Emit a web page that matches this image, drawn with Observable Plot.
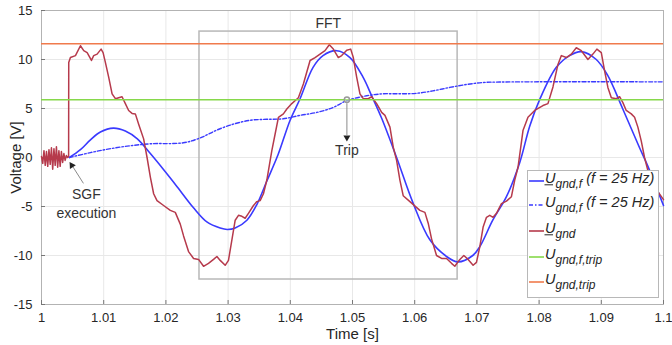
<!DOCTYPE html>
<html><head><meta charset="utf-8">
<script src="https://cdn.jsdelivr.net/npm/d3@7"></script>
<script src="https://cdn.jsdelivr.net/npm/@observablehq/plot@0.6"></script>
<style>body{margin:0;background:#fff} svg{display:block} #wrap{position:relative;width:672px;height:345px}
#legend{position:absolute;left:0;top:0;pointer-events:none}</style>
</head><body><div id="wrap"><div id="chart"></div></div><script>
// ---- data ----
const xTicks = [1, 1.01, 1.02, 1.03, 1.04, 1.05, 1.06, 1.07, 1.08, 1.09, 1.1];
const yTicks = [-15, -10, -5, 0, 5, 10, 15];

// U_gnd (measured, red)
const uGnd = [
  [1.0000, 0.1], [1.0002, -0.6], [1.0004, 0.7], [1.0006, -0.8], [1.0008, 0.6], [1.0010, -0.9],
  [1.0012, 0.8], [1.0014, -0.7], [1.0016, 1.0], [1.0018, -1.2], [1.0020, 0.9], [1.0022, -0.8],
  [1.0024, 1.1], [1.0026, -1.0], [1.0028, 0.7], [1.0030, -0.9], [1.0032, 0.6], [1.0034, -0.5],
  [1.0036, 0.4], [1.0038, -0.3], [1.0040, 0.2], [1.0042, 0.0], [1.00436, 0.1],
  [1.00438, 9.7], [1.00465, 10.2], [1.00546, 10.4], [1.00626, 11.4], [1.00679, 10.9], [1.00734, 10.7],
  [1.00803, 9.9], [1.00839, 10.4], [1.00894, 10.55], [1.00958, 11.06], [1.0099, 10.7], [1.01027, 9.7],
  [1.0108, 8.2], [1.01135, 6.5], [1.01188, 6.0], [1.01241, 6.1], [1.01295, 6.2], [1.01348, 5.5],
  [1.01401, 4.8], [1.01456, 4.5], [1.01509, 4.45], [1.01562, 3.4], [1.01642, 1.9], [1.01697, 0.0],
  [1.0175, -2.0], [1.01803, -3.7], [1.01857, -4.4], [1.01963, -4.9], [1.02071, -5.4], [1.02151, -5.6],
  [1.02231, -6.8], [1.02284, -8.0], [1.02364, -9.6], [1.02445, -10.3], [1.02525, -10.4], [1.02605, -11.1],
  [1.02685, -10.8], [1.02766, -10.4], [1.0282, -10.1], [1.02873, -10.5], [1.02953, -11.0], [1.03006, -10.5],
  [1.03061, -8.4], [1.03114, -6.4], [1.03167, -5.9], [1.03222, -6.0], [1.03274, -6.2], [1.03327, -5.7],
  [1.03408, -4.9], [1.03462, -4.5], [1.03515, -4.4], [1.03568, -3.7], [1.03623, -2.3], [1.03703, 0.7],
  [1.03756, 2.4], [1.03809, 4.1], [1.03889, 4.45], [1.03944, 4.95], [1.04024, 5.5], [1.0413, 6.1],
  [1.0421, 7.5], [1.04318, 9.9], [1.04398, 10.2], [1.04478, 10.55], [1.04558, 10.9], [1.04627, 11.5],
  [1.04692, 11.06], [1.04772, 10.2], [1.04826, 10.4], [1.04907, 10.95], [1.04971, 11.06], [1.05013, 10.2],
  [1.05067, 8.2], [1.0512, 6.5], [1.05173, 6.0], [1.05254, 6.0], [1.05308, 6.2], [1.05388, 5.5],
  [1.05469, 4.6], [1.05522, 4.3], [1.05602, 3.1], [1.05655, 1.05], [1.05709, -0.3], [1.05762, -2.3],
  [1.05815, -3.9], [1.05923, -4.5], [1.06083, -5.4], [1.06164, -5.6], [1.06217, -6.7], [1.06271, -8.3],
  [1.06351, -10.0], [1.06432, -10.3], [1.06512, -10.3], [1.06592, -10.8], [1.06645, -11.1], [1.06726, -10.4],
  [1.0679, -10.0], [1.06859, -10.4], [1.06939, -11.0], [1.06993, -10.7], [1.07047, -9.1], [1.071, -7.1],
  [1.07154, -6.1], [1.07207, -5.9], [1.0726, -6.1], [1.07315, -5.7], [1.07395, -4.7], [1.07475, -4.45],
  [1.07555, -4.0], [1.07608, -2.3], [1.07661, -1.0], [1.07741, 2.75], [1.07821, 4.1], [1.07929, 4.8],
  [1.08062, 5.3], [1.08142, 5.5], [1.08223, 7.2], [1.08303, 9.5], [1.08358, 10.4], [1.08438, 10.2],
  [1.08518, 10.55], [1.08598, 11.2], [1.08679, 10.9], [1.08785, 10.0], [1.08865, 10.55], [1.08929, 11.06],
  [1.09, 10.7], [1.09053, 8.85], [1.09106, 7.15], [1.09161, 6.1], [1.09241, 6.0], [1.09294, 6.2],
  [1.09347, 5.6], [1.09401, 4.8], [1.09482, 4.45], [1.09535, 4.1], [1.09588, 3.1], [1.09642, 1.7],
  [1.09695, 0.0], [1.09748, -1.3], [1.09856, -3.0], [1.1, -4.3]
];

// U_gnd,f (f = 25 Hz), filtered phasor, solid blue
const uGndF = [
  [1.00449, 0.0], [1.00626, 0.8], [1.00787, 1.8], [1.00947, 2.6], [1.01156, 3.0], [1.01348, 2.7],
  [1.01541, 1.9], [1.0175, 0.4], [1.01958, -1.2], [1.02183, -3.0], [1.0244, -5.1], [1.02664, -6.6],
  [1.02873, -7.2], [1.02986, -7.35], [1.03114, -7.2], [1.03302, -6.4], [1.03462, -4.8], [1.03623, -2.4],
  [1.03804, 0.3], [1.03997, 3.8], [1.04157, 6.0], [1.04366, 9.2], [1.04526, 10.4], [1.04746, 10.9],
  [1.0496, 10.2], [1.05169, 8.2], [1.05308, 6.3], [1.05469, 4.0], [1.05709, 0.0], [1.05971, -4.6],
  [1.06244, -8.4], [1.06512, -10.1], [1.06693, -10.65], [1.06934, -10.0], [1.07047, -9.1], [1.07255, -6.4],
  [1.07475, -4.0], [1.07689, -0.5], [1.07849, 3.2], [1.08009, 5.9], [1.08277, 9.2], [1.08491, 10.4],
  [1.08679, 10.8], [1.08919, 10.0], [1.09101, 8.4], [1.09342, 5.0], [1.09615, 1.0], [1.09743, -0.8],
  [1.1, -4.9]
];

// U_gnd,f (f = 25 Hz), magnitude, dash-dot blue
const uGndFMag = [
  [1.00449, 0.0], [1.00787, 0.5], [1.01108, 0.9], [1.01429, 1.2], [1.0175, 1.4], [1.02279, 1.5],
  [1.02552, 2.0], [1.0282, 2.8], [1.03082, 3.4], [1.03355, 3.8], [1.03623, 3.9], [1.03884, 3.95],
  [1.04157, 4.3], [1.04425, 4.6], [1.04687, 5.1], [1.04907, 5.8], [1.05228, 6.3], [1.0549, 6.5],
  [1.05762, 6.5], [1.0603, 6.55], [1.06292, 6.8], [1.06565, 7.15], [1.06833, 7.45], [1.07095, 7.65],
  [1.07368, 7.7], [1.07849, 7.72], [1.1, 7.72]
];

const tripLevelF = [5.9];   // U_gnd,f,trip
const tripLevel = [11.6];   // U_gnd,trip

const fftWindow = [{x1: 1.0254, x2: 1.0669, y1: -12.45, y2: 12.85}];
const fftLabel = [{t: 1.0461, v: 13.7, text: "FFT"}];
const tripPoint = [{t: 1.0491, v: 5.9}];
const tripArrow = [{t: 1.0491, v1: 5.55, v2: 2.3}];
const tripHead = [{t: 1.0491, v: 2.05}];
const tripLabel = [{t: 1.0491, v: 0.7, text: "Trip"}];
const sgfArrow = [{t1: 1.00674, v1: -2.64, t2: 1.00505, v2: -0.95}];
const sgfHead = [{t: 1.00487, v: -0.8}];
const sgfLabel = [{t: 1.00722, v: -4.63, text: "SGF\nexecution"}];

const legendLabels = ["gnd,f", "gnd,f", "gnd", "gnd,f,trip", "gnd,trip"];
const legendExtras = [" (f = 25 Hz)", " (f = 25 Hz)", "", "", ""];

const C = {red: "#b63a4c", blue: "#3a3aff", green: "#86d84a", orange: "#f07a4c"};
const FONT = "'Liberation Sans', Arial, sans-serif";
const X = d => d[0], Y = d => d[1];

const chart = Plot.plot({
  width: 672, height: 345,
  marginLeft: 41, marginRight: 9, marginTop: 10, marginBottom: 41,
  style: {fontFamily: FONT, fontSize: "13px", color: "#262626", background: "#fff"},
  x: {domain: [1, 1.1]},
  y: {domain: [-15, 15]},
  marks: [
    Plot.gridX(xTicks, {stroke: "#e8e8e8", strokeOpacity: 1}),
    Plot.gridY(yTicks, {stroke: "#e8e8e8", strokeOpacity: 1}),
    Plot.frame({stroke: "#b3b3b3"}),
    Plot.axisX(xTicks, {tickSize: -4, tickPadding: 12, tickFormat: d => String(d), label: null, stroke: "#777"}),
    Plot.axisY(yTicks, {tickSize: -4, tickPadding: 13, tickFormat: d => String(d), label: null, stroke: "#777"}),
    Plot.text(["Time [s]"], {frameAnchor: "bottom", lineAnchor: "middle", dy: 30, text: d => d, fontSize: 15}),
    Plot.text(["Voltage [V]"], {frameAnchor: "left", lineAnchor: "middle", textAnchor: "middle", dx: -25, rotate: -90, text: d => d, fontSize: 15}),
    Plot.rect(fftWindow, {x1: "x1", x2: "x2", y1: "y1", y2: "y2", fill: "none", stroke: "#b8b8b8", strokeWidth: 1.5}),
    Plot.text(fftLabel, {x: "t", y: "v", text: "text", fontSize: 14, fill: "#333"}),
    Plot.line(uGndF, {x: X, y: Y, stroke: C.blue, strokeWidth: 1.6, curve: "catmull-rom"}),
    Plot.line(uGndFMag, {x: X, y: Y, stroke: C.blue, strokeWidth: 1.4, curve: "catmull-rom", strokeDasharray: "4,2,1.5,2"}),
    Plot.line(uGnd, {x: X, y: Y, stroke: C.red, strokeWidth: 1.5}),
    Plot.ruleY(tripLevelF, {stroke: C.green, strokeWidth: 1.6}),
    Plot.ruleY(tripLevel, {stroke: C.orange, strokeWidth: 1.6}),
    Plot.link(tripArrow, {x1: "t", x2: "t", y1: "v1", y2: "v2", stroke: "#8a8a8a", strokeWidth: 1}),
    Plot.dot(tripHead, {x: "t", y: "v", symbol: "triangle", rotate: 180, r: 2.6, fill: "#222", stroke: "none"}),
    Plot.dot(tripPoint, {x: "t", y: "v", r: 2.6, fill: "white", fillOpacity: 0.3, stroke: "#999"}),
    Plot.text(tripLabel, {x: "t", y: "v", text: "text", fontSize: 14, fill: "#333"}),
    Plot.link(sgfArrow, {x1: "t1", x2: "t2", y1: "v1", y2: "v2", stroke: "#8a8a8a", strokeWidth: 1}),
    Plot.dot(sgfHead, {x: "t", y: "v", symbol: "triangle", rotate: -33, r: 2.6, fill: "#222", stroke: "none"}),
    Plot.text(sgfLabel, {x: "t", y: "v", text: "text", fontSize: 14, fill: "#333", lineHeight: 1.36})
  ]
});
document.getElementById("chart").appendChild(chart);

// ---- legend overlay (inside the plot, lower right) ----
const legendStyle = [
  {color: C.blue, dash: null, under: true},
  {color: C.blue, dash: "4,2,1.5,2", under: false},
  {color: C.red, dash: null, under: true},
  {color: C.green, dash: null, under: false},
  {color: C.orange, dash: null, under: false}
];
const lineYs = [181, 205, 231, 257, 282];
const lsvg = d3.select("#wrap").append("svg").attr("id", "legend")
  .attr("width", 672).attr("height", 345).attr("viewBox", "0 0 672 345");
lsvg.append("rect").attr("x", 527.5).attr("y", 170.5).attr("width", 131).attr("height", 127)
  .style("fill", "#ffffff").style("stroke", "#b8b8b8").style("stroke-width", 1);
legendStyle.forEach((it, i) => {
  const ly = lineYs[i];
  const ln = lsvg.append("line").attr("x1", 529).attr("x2", 544).attr("y1", ly).attr("y2", ly)
    .style("stroke", it.color).style("stroke-width", 1.6);
  if (it.dash) ln.style("stroke-dasharray", it.dash);
  const base = ly + 2;
  const t = lsvg.append("text").attr("x", 545).attr("y", base)
    .style("font-family", FONT).style("font-style", "italic").style("fill", "#262626").style("text-anchor", "start");
  t.append("tspan").style("font-size", "14.5px").text("U");
  t.append("tspan").style("font-size", "12px").attr("dy", 5).text(legendLabels[i]);
  if (legendExtras[i]) t.append("tspan").style("font-size", "14.5px").attr("dy", -5).text(legendExtras[i]);
  if (it.under) lsvg.append("line").attr("x1", 544.5).attr("x2", 553).attr("y1", base + 1.8).attr("y2", base + 1.8)
    .style("stroke", "#262626").style("stroke-width", 1);
});
</script></body></html>
